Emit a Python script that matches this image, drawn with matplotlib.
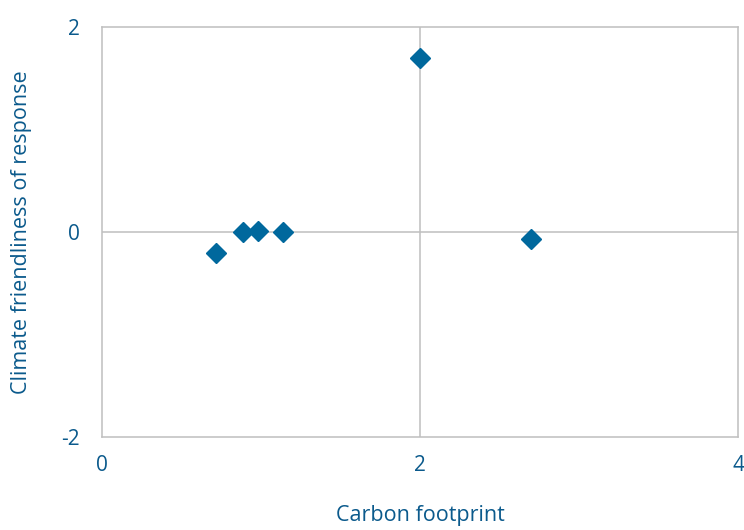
import matplotlib
matplotlib.use("Agg")
import matplotlib.pyplot as plt

# Data
carbon_footprint = [0.72, 0.89, 0.98, 1.14, 2.0, 2.70]
climate_friendliness = [-0.20, 0.0, 0.01, 0.0, 1.70, -0.07]
x_ticks = [0, 2, 4]
y_ticks = [-2, 0, 2]

marker_color = "#00689d"
text_color = "#0b5a8c"
line_color = "#bfbfbf"

plt.rcParams["font.family"] = ["Open Sans", "DejaVu Sans"]

fig = plt.figure(figsize=(7.44, 5.30), dpi=100)
ax = fig.add_axes([0.137, 0.1755, 0.855, 0.7735])

ax.set_xlim(0, 4)
ax.set_ylim(-2, 2)

# cross lines through the middle
ax.axvline(2, color=line_color, lw=1.1, zorder=1)
ax.axhline(0, color=line_color, lw=1.1, zorder=1)

ax.plot(carbon_footprint, climate_friendliness, linestyle="none",
        marker="D", markersize=10.5, color=marker_color, zorder=3)

ax.set_xticks(x_ticks)
ax.set_yticks(y_ticks)
ax.set_yticklabels([str(v) for v in y_ticks])
ax.tick_params(length=0, labelsize=15, colors=text_color)
ax.tick_params(axis="x", pad=13)
ax.tick_params(axis="y", pad=16)

for s in ax.spines.values():
    s.set_color(line_color)
    s.set_linewidth(1.1)

ax.set_xlabel("Carbon footprint", fontsize=15.5, color=text_color, labelpad=21)
ax.set_ylabel("Climate friendliness of response", fontsize=15.5,
              color=text_color, labelpad=21)

fig.savefig("out.png", dpi=100)
